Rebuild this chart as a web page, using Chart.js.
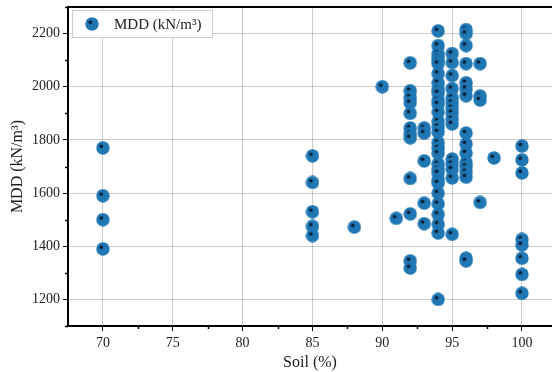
<!DOCTYPE html>
<html>
<head>
<meta charset="utf-8">
<script src="https://cdn.jsdelivr.net/npm/chart.js@4/dist/chart.umd.min.js"></script>
<style>
html,body{margin:0;padding:0;background:#fff;}
#wrap{width:552px;height:372px;}
</style>
</head>
<body>
<div id="wrap"><canvas id="c" width="552" height="372"></canvas></div>
<script>
// ---- data ----
const seriesLabel = 'MDD (kN/m³)';
const xTitle = 'Soil (%)';
const yTitle = 'MDD (kN/m³)';
const xTicks = [70, 75, 80, 85, 90, 95, 100];
const yTicks = [1200, 1400, 1600, 1800, 2000, 2200];

const soil70 = [1770, 1590, 1500, 1390];
const soil85 = [1740, 1640, 1530, 1475, 1440];
const soil88 = [1472];
const soil90 = [2000];
const soil91 = [1505];
const soil92 = [2090, 1985, 1960, 1940, 1900, 1845, 1823, 1808, 1655, 1522, 1345, 1318];
const soil93 = [1845, 1826, 1721, 1562, 1485];
const soil94 = [2210, 2155, 2125, 2110, 2098, 2087, 2050, 2015, 1990, 1977, 1950, 1935, 1905, 1870, 1850, 1830, 1790, 1770, 1750, 1710, 1690, 1676, 1650, 1638, 1600, 1560, 1520, 1483, 1450, 1200];
const soil95 = [2125, 2091, 2042, 1993, 1959, 1940, 1921, 1902, 1879, 1860, 1728, 1710, 1690, 1657, 1445];
const soil96 = [2215, 2200, 2155, 2087, 2015, 1993, 1966, 1826, 1785, 1751, 1715, 1700, 1680, 1660, 1355, 1345];
const soil97 = [2087, 1965, 1950, 1565];
const soil98 = [1732];
const soil100 = [1777, 1725, 1676, 1426, 1405, 1355, 1294, 1223];

const groups = [[70, soil70], [85, soil85], [88, soil88], [90, soil90], [91, soil91], [92, soil92], [93, soil93], [94, soil94], [95, soil95], [96, soil96], [97, soil97], [98, soil98], [100, soil100]];
const points = [];
groups.forEach(([s, arr]) => arr.forEach(v => points.push({x: s, y: v})));

// ---- marker image ----
function makeMarker() {
  const c = document.createElement('canvas');
  c.width = 14; c.height = 14;
  const g = c.getContext('2d');
  g.beginPath(); g.arc(7, 7, 6.7, 0, Math.PI * 2);
  g.fillStyle = '#1f77b4'; g.fill();
  g.beginPath(); g.arc(5.3, 5.3, 1.5, 0, Math.PI * 2);
  g.fillStyle = '#0b1c2c'; g.shadowColor = '#0b1c2c'; g.shadowBlur = 1.5; g.fill();
  return c;
}
const marker = makeMarker();

const FONT = "'Liberation Serif', 'Times New Roman', serif";

const extras = {
  id: 'extras',
  afterDraw(chart) {
    const ctx = chart.ctx, a = chart.chartArea;
    const xs = chart.scales.x, ys = chart.scales.y;
    ctx.save();
    // top frame
    ctx.strokeStyle = '#000'; ctx.lineWidth = 2;
    ctx.beginPath(); ctx.moveTo(a.left - 1, a.top); ctx.lineTo(a.right, a.top); ctx.stroke();
    // minor ticks
    ctx.lineWidth = 1.5;
    for (let v = 72.5; v < 102; v += 5) {
      const px = Math.round(xs.getPixelForValue(v)) + 0.5;
      ctx.beginPath(); ctx.moveTo(px, a.bottom); ctx.lineTo(px, a.bottom + 3); ctx.stroke();
    }
    for (let v = 1100; v <= 2300; v += 200) {
      const py = Math.round(ys.getPixelForValue(v)) + 0.5;
      ctx.beginPath(); ctx.moveTo(a.left, py); ctx.lineTo(a.left - 3, py); ctx.stroke();
    }
    // legend
    const lx = 72.5, ly = 10.5, lw = 140, lh = 27;
    ctx.fillStyle = '#fff'; ctx.fillRect(lx, ly, lw, lh);
    ctx.strokeStyle = '#cfcfcf'; ctx.lineWidth = 1; ctx.strokeRect(lx, ly, lw, lh);
    ctx.drawImage(marker, 85, 17);
    ctx.fillStyle = '#222'; ctx.font = '15px ' + FONT;
    ctx.textBaseline = 'middle'; ctx.textAlign = 'left';
    ctx.fillText(seriesLabel, 114, 25);
    ctx.restore();
  }
};

new Chart(document.getElementById('c'), {
  type: 'scatter',
  data: {
    datasets: [{
      label: seriesLabel,
      data: points,
      pointStyle: marker,
      pointRadius: 7,
      backgroundColor: '#1f77b4',
      borderColor: '#1f77b4'
    }]
  },
  options: {
    responsive: false,
    animation: false,
    devicePixelRatio: 1,
    layout: {autoPadding: false, padding: {left: 0, right: 0, top: 7, bottom: 0}},
    plugins: {legend: {display: false}, tooltip: {enabled: false}},
    scales: {
      x: {
        type: 'linear', min: 67.5, max: 102.15,
        afterBuildTicks: s => { s.ticks = xTicks.map(v => ({value: v})); },
        afterFit: s => { s.height = 46; s.paddingLeft = 0; s.paddingRight = 0; },
        grid: {color: 'rgba(0,0,0,0.2)', lineWidth: 1, drawTicks: true, tickLength: 5, tickColor: '#000'},
        border: {display: true, color: '#000', width: 2},
        ticks: {color: '#222', font: {family: FONT, size: 14}, padding: 4, maxRotation: 0, callback: v => String(v)},
        title: {display: true, text: xTitle, color: '#222', font: {family: FONT, size: 16}, padding: {top: 0, bottom: 0}}
      },
      y: {
        type: 'linear', min: 1100, max: 2300,
        afterBuildTicks: s => { s.ticks = yTicks.map(v => ({value: v})); },
        afterFit: s => { s.width = 68; s.paddingTop = 0; s.paddingBottom = 0; },
        grid: {color: 'rgba(0,0,0,0.2)', lineWidth: 1, drawTicks: true, tickLength: 5, tickColor: '#000'},
        border: {display: true, color: '#000', width: 2},
        ticks: {color: '#222', font: {family: FONT, size: 14}, padding: 3, callback: v => String(v)},
        title: {display: true, text: yTitle, color: '#222', font: {family: FONT, size: 16}, padding: {top: 8, bottom: 0}}
      }
    }
  },
  plugins: [extras]
});
</script>
</body>
</html>
